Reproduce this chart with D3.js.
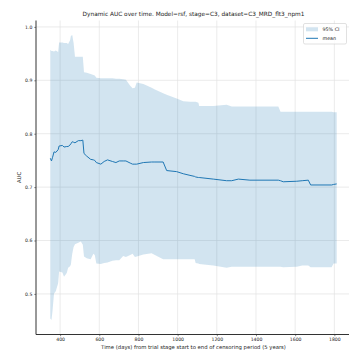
<!DOCTYPE html>
<html><head><meta charset="utf-8">
<script src="https://cdn.jsdelivr.net/npm/d3@7"></script>
<style>body{margin:0;background:#fff}svg{display:block}text{font-family:"DejaVu Sans",sans-serif}</style>
</head><body>
<svg id="c" width="349" height="352"></svg>
<script>
const days  = [350,356,361,369,378,390,395,412,420,434,441,451,455,462,469,476,493,506,516,522,536,556,570,577,585,608,625,642,667,685,702,722,736,758,770,782,791,825,867,884,926,944,995,1029,1063,1087,1092,1106,1110,1182,1250,1276,1310,1369,1514,1525,1539,1608,1636,1667,1679,1786,1796,1812];
const upper = [0.957,0.955,0.955,0.954,0.956,0.953,0.971,0.971,0.970,0.970,0.968,0.975,0.983,0.985,0.970,0.944,0.944,0.944,0.944,0.915,0.914,0.912,0.910,0.909,0.905,0.904,0.904,0.904,0.904,0.903,0.903,0.902,0.901,0.890,0.885,0.886,0.896,0.893,0.886,0.883,0.876,0.873,0.866,0.861,0.860,0.860,0.860,0.858,0.852,0.852,0.854,0.851,0.851,0.851,0.851,0.841,0.841,0.841,0.841,0.841,0.841,0.841,0.840,0.840];
const meanV = [0.754,0.749,0.755,0.766,0.765,0.770,0.777,0.778,0.775,0.776,0.776,0.779,0.781,0.785,0.784,0.783,0.787,0.787,0.788,0.763,0.758,0.752,0.751,0.750,0.746,0.743,0.748,0.751,0.748,0.746,0.749,0.749,0.749,0.745,0.743,0.743,0.743,0.746,0.747,0.747,0.747,0.731,0.729,0.725,0.722,0.720,0.719,0.718,0.718,0.715,0.712,0.712,0.715,0.713,0.713,0.712,0.710,0.711,0.712,0.713,0.704,0.704,0.705,0.706];
const lower = [0.454,0.451,0.467,0.501,0.505,0.520,0.542,0.540,0.532,0.539,0.549,0.552,0.555,0.575,0.588,0.593,0.596,0.598,0.592,0.570,0.567,0.565,0.575,0.573,0.557,0.556,0.558,0.559,0.562,0.563,0.563,0.571,0.569,0.573,0.575,0.569,0.570,0.574,0.576,0.573,0.565,0.565,0.565,0.565,0.565,0.565,0.558,0.557,0.556,0.553,0.549,0.551,0.551,0.551,0.551,0.551,0.550,0.551,0.553,0.553,0.550,0.550,0.557,0.557];
const xTicks = [400,600,800,1000,1200,1400,1600,1800];
const yTicks = [0.5,0.6,0.7,0.8,0.9,1.0];
const title = "Dynamic AUC over time. Model=rsf, stage=C3, dataset=C3_MRD_flt3_npm1";
const xLabel = "Time (days) from trial stage start to end of censoring period (5 years)";
const yLabel = "AUC";
const legendLabels = ["95% CI","mean"];

const blue = "#1f77b4";
const svg = d3.select("#c");
const L = 36, R = 351, T = 20.5, B = 334.5;
const x = d3.scaleLinear().domain([277,1885]).range([L,R]);
const y = d3.scaleLinear().domain([0.424,1.012]).range([B,T]);
const data = days.map((d,i)=>({d, lo:lower[i], hi:upper[i], m:meanV[i]}));

const g = svg.append("g");
// grid
g.append("g").selectAll("line").data(xTicks).join("line")
  .attr("x1",d=>x(d)).attr("x2",d=>x(d)).attr("y1",T).attr("y2",B)
  .attr("stroke","#e3e3e3").attr("stroke-width",0.7);
g.append("g").selectAll("line").data(yTicks).join("line")
  .attr("x1",L).attr("x2",R).attr("y1",d=>y(d)).attr("y2",d=>y(d))
  .attr("stroke","#e3e3e3").attr("stroke-width",0.7);

// band
g.append("path").datum(data)
  .attr("d", d3.area().x(d=>x(d.d)).y0(d=>y(d.lo)).y1(d=>y(d.hi)))
  .attr("fill", blue).attr("fill-opacity",0.2);
// mean
g.append("path").datum(data)
  .attr("d", d3.line().x(d=>x(d.d)).y(d=>y(d.m)))
  .attr("fill","none").attr("stroke",blue).attr("stroke-width",1);

// axes
const xAxis = d3.axisBottom(x).tickValues(xTicks).tickSize(1.7).tickPadding(2).tickFormat(d3.format("d"));
const yAxis = d3.axisLeft(y).tickValues(yTicks).tickSize(1.7).tickPadding(2).tickFormat(d3.format(".1f"));
const gx = svg.append("g").attr("transform",`translate(0,${B})`).call(xAxis);
const gy = svg.append("g").attr("transform",`translate(${L},0)`).call(yAxis);
[gx,gy].forEach(a=>{
  a.select(".domain").attr("stroke","#333").attr("stroke-width",1);
  a.selectAll(".tick line").attr("stroke","#333").attr("stroke-width",0.6);
  a.selectAll(".tick text").attr("fill","#222").style("font-size","4.6px").style("font-family","DejaVu Sans");
});
gx.select(".domain").attr("d",`M${L},0H${R}`);
gy.select(".domain").attr("d",`M0,${B}V${T}`);

svg.append("text").attr("x",(L+R)/2).attr("y",16).attr("text-anchor","middle")
  .style("font-size","5.8px").attr("fill","#222").text(title);
svg.append("text").attr("x",(L+R)/2).attr("y",348.5).attr("text-anchor","middle")
  .style("font-size","5.3px").attr("fill","#222").text(xLabel);
svg.append("text").attr("transform",`translate(21,${(T+B)/2}) rotate(-90)`).attr("text-anchor","middle")
  .style("font-size","5.3px").attr("fill","#222").text(yLabel);

// legend
const lg = svg.append("g");
lg.append("rect").attr("x",303.5).attr("y",23.5).attr("width",43).attr("height",20.5).attr("rx",1.5)
  .attr("fill","#fff").attr("fill-opacity",0.8).attr("stroke","#ccc").attr("stroke-width",0.6);
lg.append("rect").attr("x",306).attr("y",27.3).attr("width",12).attr("height",4)
  .attr("fill",blue).attr("fill-opacity",0.2);
lg.append("line").attr("x1",306).attr("x2",318).attr("y1",38.3).attr("y2",38.3).attr("stroke",blue).attr("stroke-width",1);
lg.append("text").attr("x",322.5).attr("y",31.3).style("font-size","4.8px").attr("fill","#222").text(legendLabels[0]);
lg.append("text").attr("x",322.5).attr("y",40).style("font-size","4.8px").attr("fill","#222").text(legendLabels[1]);
</script>
</body></html>
